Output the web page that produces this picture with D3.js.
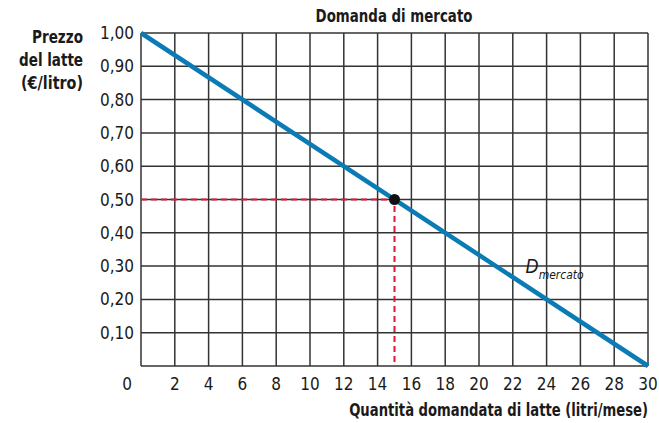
<!DOCTYPE html>
<html>
<head>
<meta charset="utf-8">
<script src="https://cdn.jsdelivr.net/npm/d3@7"></script>
<style>
  body { margin: 0; background: #fff; }
  text { font-family: "Liberation Sans Narrow", "DejaVu Sans Condensed", sans-serif; fill: #1a1a1a; }
</style>
</head>
<body>
<div id="chart"></div>
<script>
// Data
const xTicks = [0, 2, 4, 6, 8, 10, 12, 14, 16, 18, 20, 22, 24, 26, 28, 30];
const yTicks = [0, 0.1, 0.2, 0.3, 0.4, 0.5, 0.6, 0.7, 0.8, 0.9, 1.0];
const demandQty = [0, 30];
const demandPrice = [1.0, 0];
const pointQty = 15;
const pointPrice = 0.5;

const width = 659;
const height = 423;
const margin = { left: 141, right: 11, top: 33, bottom: 57 };

const svg = d3.select("#chart")
    .append("svg")
    .attr("width", width)
    .attr("height", height);

const x = d3.scaleLinear()
    .domain([0, 30])
    .range([margin.left, width - margin.right]);

const y = d3.scaleLinear()
    .domain([0, 1])
    .range([height - margin.bottom, margin.top]);

const fmt = d3.format(".2f");

// Grid
svg.append("g")
    .selectAll("line")
    .data(xTicks)
    .enter()
    .append("line")
    .attr("x1", function(d) { return x(d); })
    .attr("x2", function(d) { return x(d); })
    .attr("y1", y(0))
    .attr("y2", y(1))
    .attr("stroke", "#333")
    .attr("stroke-width", 1.5);

svg.append("g")
    .selectAll("line")
    .data(yTicks)
    .enter()
    .append("line")
    .attr("x1", x(0))
    .attr("x2", x(30))
    .attr("y1", function(d) { return y(d); })
    .attr("y2", function(d) { return y(d); })
    .attr("stroke", "#333")
    .attr("stroke-width", 1.5);

// Tick labels
svg.append("g")
    .selectAll("text")
    .data(xTicks)
    .enter()
    .append("text")
    .attr("x", function(d) { return d === 0 ? x(0) - 14 : x(d); })
    .attr("y", y(0) + 24)
    .attr("text-anchor", "middle")
    .attr("font-size", 17)
    .text(function(d) { return d; });

svg.append("g")
    .selectAll("text")
    .data(yTicks.filter(function(d) { return d > 0; }))
    .enter()
    .append("text")
    .attr("x", x(0) - 7)
    .attr("y", function(d) { return y(d) + 6; })
    .attr("text-anchor", "end")
    .attr("font-size", 17)
    .text(function(d) { return fmt(d).replace(".", ","); });

// Dashed guides
svg.append("path")
    .attr("d", d3.line()([[x(0), y(pointPrice)], [x(pointQty), y(pointPrice)], [x(pointQty), y(0)]]))
    .attr("fill", "none")
    .attr("stroke", "#e3153b")
    .attr("stroke-width", 2)
    .attr("stroke-dasharray", "6,4");

// Demand line
svg.append("path")
    .datum(d3.zip(demandQty, demandPrice))
    .attr("d", d3.line()
        .x(function(d) { return x(d[0]); })
        .y(function(d) { return y(d[1]); }))
    .attr("fill", "none")
    .attr("stroke", "#0a7bb5")
    .attr("stroke-width", 4.5);

svg.append("circle")
    .attr("cx", x(pointQty))
    .attr("cy", y(pointPrice))
    .attr("r", 5.5)
    .attr("fill", "#111");

// D mercato label
const lab = svg.append("text")
    .attr("x", x(22.75))
    .attr("y", y(0.3) + 7)
    .attr("font-style", "italic")
    .attr("font-size", 19);
lab.append("tspan").text("D");
lab.append("tspan")
    .attr("font-size", 12)
    .attr("dy", 6)
    .text("mercato");

// Titles: squeeze horizontally to mimic the condensed face
function squeezedText(str, ax, ay, w, anchor) {
    const t = svg.append("text")
        .attr("font-weight", "bold")
        .attr("font-size", 18)
        .attr("text-anchor", anchor)
        .text(str);
    const k = Math.min(1, w / t.node().getComputedTextLength());
    t.attr("transform", "translate(" + ax + "," + ay + ") scale(" + k + ",1)");
    return t;
}

squeezedText("Domanda di mercato", 394, 22, 157, "middle");
squeezedText("Quantità domandata di latte (litri/mese)", width - margin.right, 416, 299, "end");

const yTitle = ["Prezzo", "del latte", "(€/litro)"];
const yTitleWidth = [51, 64, 62];
yTitle.forEach(function(d, i) {
    squeezedText(d, 83, 43 + i * 23, yTitleWidth[i], "end");
});
</script>
</body>
</html>
